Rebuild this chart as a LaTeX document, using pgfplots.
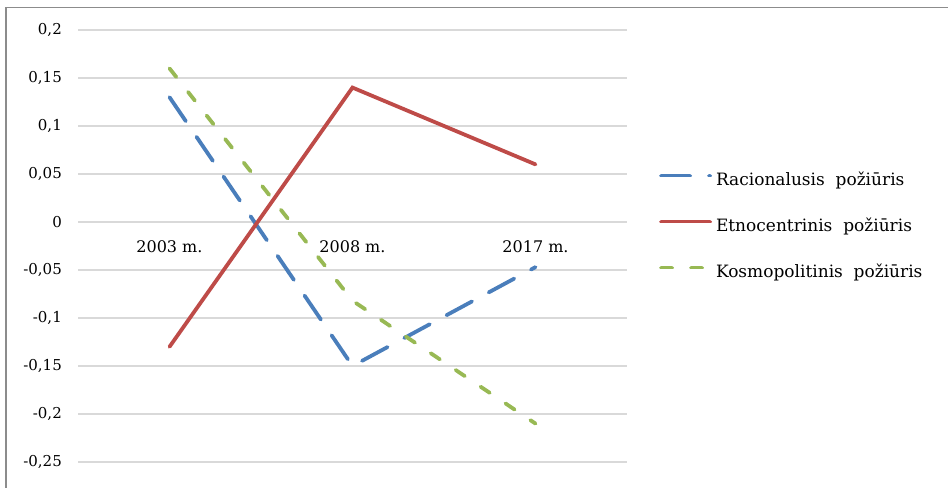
\documentclass[border=0pt]{standalone}
\usepackage{fontspec}
\setmainfont{DejaVu Serif}
\usepackage{pgfplots}
\pgfplotsset{compat=1.18}
\definecolor{cblue}{HTML}{4A7EBB}
\definecolor{cred}{HTML}{BE4B48}
\definecolor{cgreen}{HTML}{98B954}
\definecolor{cgrid}{HTML}{D9D9D9}
\definecolor{cframe}{HTML}{8C8C8C}
\begin{document}
\begin{tikzpicture}[x=1bp,y=1bp]
\useasboundingbox (0,0) rectangle (948,488);
\draw[cframe, line width=1.5bp] (6,0) -- (6,480.5) -- (948,480.5);
\begin{axis}[
  at={(78bp,26bp)}, anchor=south west,
  scale only axis, width=549bp, height=432bp,
  xmin=-0.5, xmax=2.5, ymin=-0.25, ymax=0.2,
  xtick=\empty,
  ytick={-0.25,-0.2,-0.15,-0.1,-0.05,0,0.05,0.1,0.15,0.2},
  yticklabels={{-0,25},{-0,2},{-0,15},{-0,1},{-0,05},{0},{0,05},{0,1},{0,15},{0,2}},
  major tick length=0pt,
  axis line style={draw=none},
  ymajorgrids, grid style={color=cgrid, line width=1.5bp},
  yticklabel style={font=\fontsize{15bp}{18bp}\selectfont, inner sep=0pt, anchor=east, xshift=-16bp},
  clip=false,
  legend style={at={(axis description cs:1,0.545)}, anchor=west, xshift=29bp,
    draw=none, fill=none, font=\fontsize{17bp}{20bp}\selectfont,
    nodes={inner sep=0pt, text height=14bp, text depth=4bp},
    row sep=28bp, column sep=4bp},
  legend cell align=left,
  legend image code/.code={\draw[#1] (0bp,5bp) -- (49bp,5bp);},
]
\addplot[cblue, line width=3.8bp, line cap=round, dash pattern=on 29bp off 19bp] coordinates {(0,0.13) (1,-0.15) (2,-0.047)};
\addlegendentry{Racionalusis\ \ požiūris}
\addplot[cred, line width=3.8bp, line cap=round] coordinates {(0,-0.13) (1,0.14) (2,0.06)};
\addlegendentry{Etnocentrinis\ \ požiūris}
\addplot[cgreen, line width=3.8bp, line cap=round, dash pattern=on 11bp off 19bp] coordinates {(0,0.16) (1,-0.082) (2,-0.21)};
\addlegendentry{Kosmopolitinis\ \ požiūris}
\node[anchor=base, yshift=-30.5bp, font=\fontsize{16bp}{18bp}\selectfont] at (axis cs:0,0) {2003 m.};
\node[anchor=base, yshift=-30.5bp, font=\fontsize{16bp}{18bp}\selectfont] at (axis cs:1,0) {2008 m.};
\node[anchor=base, yshift=-30.5bp, font=\fontsize{16bp}{18bp}\selectfont] at (axis cs:2,0) {2017 m.};
\end{axis}
\end{tikzpicture}
\end{document}
